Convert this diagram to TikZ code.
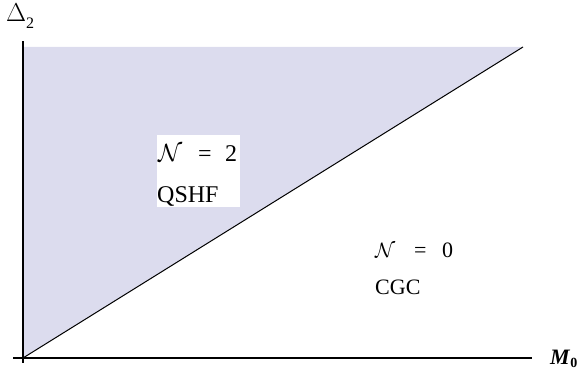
\documentclass[tikz,border=0pt]{standalone}
\usepackage{fontspec}
\setmainfont{Liberation Serif}
\usepackage{graphicx}
\definecolor{regionfill}{RGB}{220,220,238}
\tikzset{
  axis/.style={line width=1.2pt, black},
  lblA/.style={anchor=base west, inner sep=0pt, font=\fontsize{24}{26}\selectfont},
  lblB/.style={anchor=base west, inner sep=0pt, font=\fontsize{22}{24}\selectfont},
  ax/.style={anchor=base west, inner sep=0pt}
}
\begin{document}
\begin{tikzpicture}[x=1pt,y=-1pt]
\useasboundingbox (0,0) rectangle (579,371);
\coordinate (O) at (23,358);
\coordinate (YT) at (23,41);
\coordinate (YB) at (23,363);
\coordinate (XL) at (13,358);
\coordinate (XR) at (532,358);
\coordinate (TL) at (23,47);
\coordinate (TR) at (523,47);
\fill[regionfill] (O) -- (TL) -- (TR) -- cycle;
\draw[line width=1pt] (O) -- (TR);
\draw[axis] (YB) -- (YT);
\draw[axis] (XL) -- (XR);
\node[fill=white, minimum width=83pt, minimum height=72pt, inner sep=0pt] (box) at (198.5,171) {};
\node[lblA] (n2) at (158,162) {\makebox[40pt][l]{$\mathcal{N}$}\makebox[27pt][l]{=}2};
\node[lblA] (q) at (157,203) {QSHF};
\node[lblB] (n0) at (375,258) {\makebox[39pt][l]{$\mathcal{N}$}\makebox[28pt][l]{=}0};
\node[lblB] (c) at (375,295) {CGC};
\node[ax, font=\fontsize{16}{18}\selectfont] (d) at (6,22) {\scalebox{1.5}{$\Delta$}\raisebox{-7pt}{2}};
\node[ax, font=\fontsize{22}{24}\selectfont] (m) at (550,365) {\textbf{\textit{M}}\raisebox{-3pt}{\fontsize{14}{15}\selectfont\bfseries 0}};
\end{tikzpicture}
\end{document}
